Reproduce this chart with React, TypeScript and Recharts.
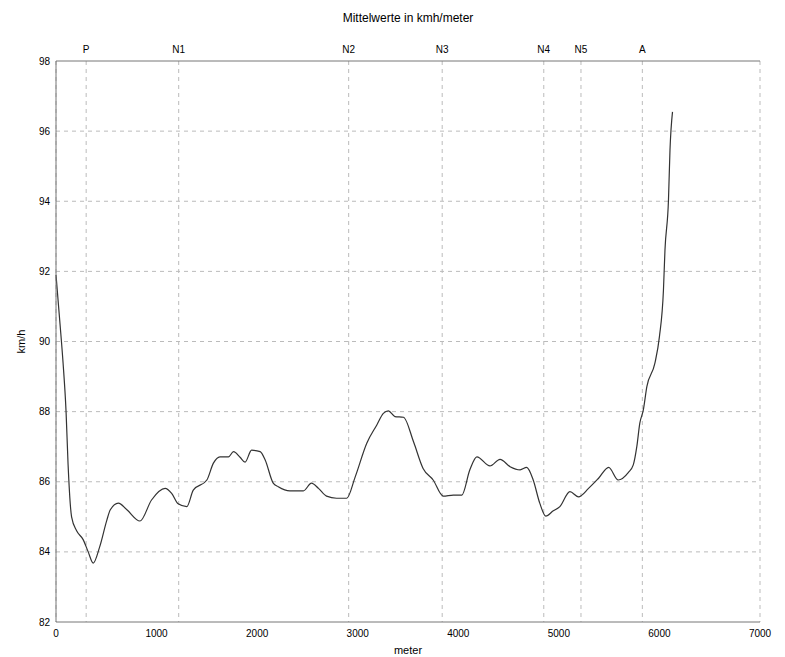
import { LineChart, Line, XAxis, YAxis, CartesianGrid } from "recharts";

// distance along the track (m)
const meters = [
  0, 40, 70, 100, 120, 155, 205, 270, 320, 370, 435, 505, 540, 620, 705, 835,
  950, 1085, 1150, 1215, 1300, 1365, 1500, 1565, 1630, 1715, 1765, 1830, 1880,
  1945, 2030, 2080, 2160, 2210, 2325, 2460, 2540, 2610, 2690, 2790, 2890, 2975,
  3090, 3190, 3255, 3305, 3370, 3455, 3555, 3650, 3750, 3850, 3950, 4035, 4115,
  4185, 4315, 4415, 4515, 4615, 4680, 4745, 4810, 4870, 4945, 5010, 5110, 5195,
  5295, 5395, 5495, 5590, 5690, 5740, 5775, 5805, 5840, 5875, 5955, 6000, 6040,
  6055, 6090, 6105, 6130,
];

// mean speed (km/h)
const kmh = [
  91.9, 90.5, 89.4, 88.0, 86.5, 85.0, 84.6, 84.35, 84.0, 83.68, 84.15, 84.9,
  85.2, 85.39, 85.2, 84.88, 85.48, 85.81, 85.67, 85.37, 85.29, 85.76, 86.05,
  86.53, 86.71, 86.71, 86.86, 86.7, 86.56, 86.9, 86.86, 86.62, 85.96, 85.86,
  85.74, 85.74, 85.96, 85.81, 85.59, 85.53, 85.53, 86.14, 87.1, 87.62, 87.95,
  88.02, 87.86, 87.84, 87.14, 86.38, 86.05, 85.59, 85.62, 85.62, 86.34, 86.71,
  86.45, 86.64, 86.43, 86.34, 86.41, 86.05, 85.39, 85.02, 85.17, 85.29, 85.72,
  85.57, 85.81, 86.1, 86.41, 86.05, 86.26, 86.48, 87.0, 87.67, 88.05, 88.71,
  89.38, 90.14, 91.47, 92.6, 94.04, 95.46, 96.55,
];

// marker positions shown on the top axis
const markerNames = ["P", "N1", "N2", "N3", "N4", "N5", "A"];
const markerMeters = [300, 1220, 2910, 3840, 4850, 5220, 5830];

const xTicks = [0, 1000, 2000, 3000, 4000, 5000, 6000, 7000];
const yTicks = [82, 84, 86, 88, 90, 92, 94, 96, 98];

const data = meters.map((m, i) => ({ m, v: kmh[i] }));

const font = "'Liberation Sans', Arial, sans-serif";
const tickStyle = { fill: "#000", fontSize: 10, fontFamily: font };

export default function App() {
  return (
    <div style={{ position: "absolute", left: 0, top: 0, width: 785, height: 657, background: "#fff" }}>
      <div
        style={{
          position: "absolute",
          top: 11,
          left: 408,
          transform: "translateX(-50%)",
          fontFamily: font,
          fontSize: 12,
          whiteSpace: "nowrap",
        }}
      >
        Mittelwerte in kmh/meter
      </div>
      <LineChart width={785} height={657} data={data} margin={{ top: 41, right: 25, bottom: 5, left: 16 }}>
        <CartesianGrid
          xAxisId="top"
          stroke="#bbb"
          strokeDasharray="4 4"
          horizontalValues={yTicks.slice(1, -1)}
        />
        <XAxis
          dataKey="m"
          type="number"
          domain={[0, 7000]}
          ticks={xTicks}
          height={30}
          tick={tickStyle}
          tickLine={false}
          tickSize={4}
          tickMargin={4}
          axisLine={{ stroke: "#777" }}
          label={{ value: "meter", position: "insideBottom", offset: 0, style: { ...tickStyle, fontSize: 11 }, dy: 2 }}
        />
        <XAxis
          xAxisId="top"
          orientation="top"
          dataKey="m"
          type="number"
          domain={[0, 7000]}
          ticks={markerMeters}
          tickFormatter={(v: number) => markerNames[markerMeters.indexOf(v)] ?? ""}
          height={20}
          tick={tickStyle}
          tickLine={false}
          tickSize={4}
          tickMargin={4}
          axisLine={{ stroke: "#777" }}
        />
        <YAxis
          type="number"
          domain={[82, 98]}
          ticks={yTicks}
          width={40}
          tick={tickStyle}
          tickLine={false}
          tickSize={4}
          tickMargin={2}
          axisLine={{ stroke: "#777" }}
          label={{ value: "km/h", angle: -90, position: "insideLeft", offset: 5, style: { ...tickStyle, fontSize: 11, textAnchor: "middle" } }}
        />
        <YAxis
          yAxisId="right"
          orientation="right"
          domain={[82, 98]}
          width={0}
          tick={false}
          tickLine={false}
          axisLine={{ stroke: "#777" }}
        />
        <Line
          type="monotone"
          dataKey="v"
          stroke="#333"
          strokeWidth={1.2}
          dot={false}
          isAnimationActive={false}
        />
      </LineChart>
    </div>
  );
}
